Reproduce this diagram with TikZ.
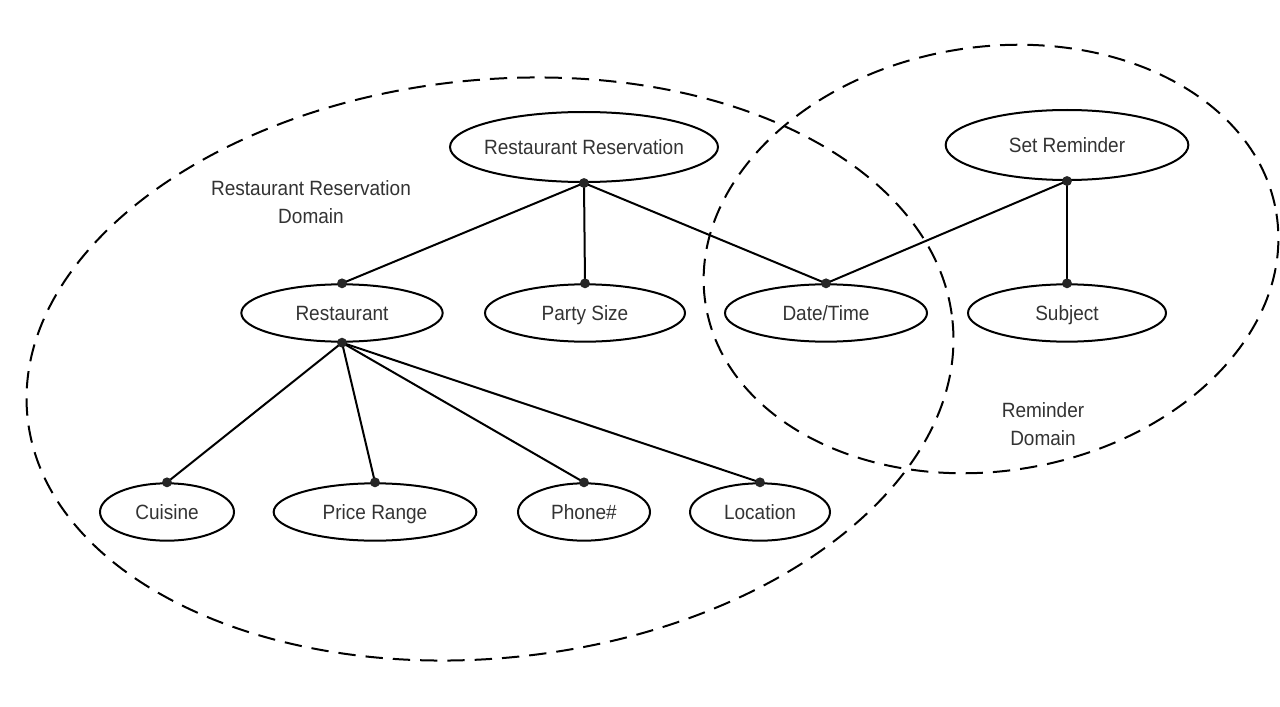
\documentclass[tikz,border=0pt]{standalone}
\usepackage{fontspec}
\setmainfont[FakeStretch=0.92]{Liberation Sans}
\usetikzlibrary{shapes.geometric}
\tikzset{
  ent/.style={draw=black, ellipse, line width=1.5pt, inner sep=0pt, minimum height=43pt, text=black!80, text height=12pt, text depth=1pt, font=\fontsize{15.5}{18}\selectfont},
  link/.style={draw=black, line width=1.5pt},
  dom/.style={draw=black, line width=1.5pt, dash pattern=on 13pt off 7.5pt},
  domlabel/.style={align=center, text=black!80, font=\fontsize{15.5}{21}\selectfont},
  dot/.style={fill=black!85}
}
\begin{document}
\begin{tikzpicture}[x=0.75pt,y=-0.75pt]
\useasboundingbox (0,0) rectangle (1280,706);
% domains
\draw[dom, rotate around={6:(490,369)}] (490,369) ellipse [x radius=465, y radius=289];
\draw[dom, rotate around={9:(991,259)}] (991,259) ellipse [x radius=289, y radius=212];
% entities
\node[ent, minimum width=201pt, minimum height=52.5pt] (rr) at (584,147) {\makebox[0pt]{Restaurant Reservation}};
\node[ent, minimum width=182pt, minimum height=52.5pt] (sr) at (1067,145) {\makebox[0pt]{Set Reminder}};
\node[ent, minimum width=151pt] (rest) at (342,313) {\makebox[0pt]{Restaurant}};
\node[ent, minimum width=150pt] (party) at (585,313) {\makebox[0pt]{Party Size}};
\node[ent, minimum width=151.5pt] (dt) at (826,313) {\makebox[0pt]{Date/Time}};
\node[ent, minimum width=148.5pt] (subj) at (1067,313) {\makebox[0pt]{Subject}};
\node[ent, minimum width=100.5pt] (cui) at (167,512) {\makebox[0pt]{Cuisine}};
\node[ent, minimum width=152pt] (price) at (375,512) {\makebox[0pt]{Price Range}};
\node[ent, minimum width=99pt] (phone) at (584,512) {\makebox[0pt]{Phone\#}};
\node[ent, minimum width=105pt] (loc) at (760,512) {\makebox[0pt]{Location}};
% domain labels
\node[domlabel] (rrdom) at (311,202) {Restaurant Reservation\\Domain};
\node[domlabel] (remdom) at (1043,424) {Reminder\\Domain};
% connectors
\draw[link] (rr.south) -- (rest.north);
\draw[link] (rr.south) -- (party.north);
\draw[link] (rr.south) -- (dt.north);
\draw[link] (sr.south) -- (dt.north);
\draw[link] (sr.south) -- (subj.north);
\draw[link] (rest.south) -- (cui.north);
\draw[link] (rest.south) -- (price.north);
\draw[link] (rest.south) -- (phone.north);
\draw[link] (rest.south) -- (loc.north);
% dots
\foreach \p in {rr.south, sr.south, rest.north, rest.south, party.north, dt.north, subj.north, cui.north, price.north, phone.north, loc.north}
  \fill[dot] (\p) circle (3.7pt);
\end{tikzpicture}
\end{document}
